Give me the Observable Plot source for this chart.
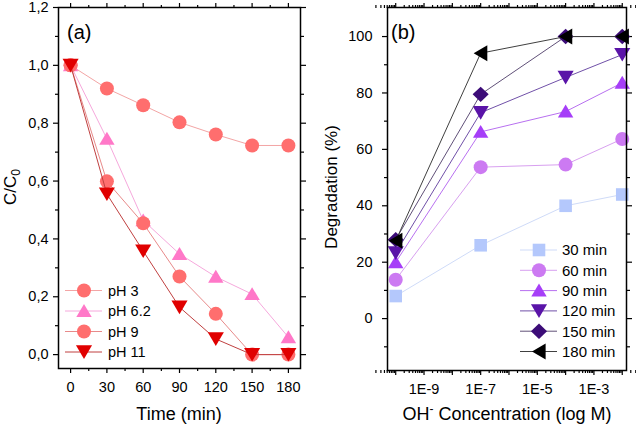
<!DOCTYPE html>
<html><head><meta charset="utf-8">
<script src="https://cdn.jsdelivr.net/npm/d3@7"></script>
<script src="https://cdn.jsdelivr.net/npm/@observablehq/plot@0.6"></script>
<style>
body{margin:0;background:#fff;font-family:"Liberation Sans",Arial,sans-serif;}
#wrap{display:flex;width:636px;height:428px;}
</style></head><body><div id="wrap"></div>
<script>
// ---------- data: panel (a) ----------
const time = [0, 30, 60, 90, 120, 150, 180];
const pH3  = [1.0, 0.92, 0.862, 0.803, 0.761, 0.723, 0.723];
const pH62 = [1.0, 0.746, 0.464, 0.348, 0.269, 0.209, 0.06];
const pH9  = [1.0, 0.599, 0.454, 0.27, 0.141, 0.0, 0.0];
const pH11 = [1.0, 0.555, 0.358, 0.164, 0.054, 0.0, 0.0];
const phNames = ["pH 3", "pH 6.2", "pH 9", "pH 11"];

// ---------- data: panel (b) ----------
const conc = [1e-10, 1e-7, 1e-4, 1e-2];
const m30  = [8, 26, 40, 44];
const m60  = [13.8, 53.7, 54.6, 63.7];
const m90  = [20, 66.2, 73.4, 83.6];
const m120 = [23.3, 73, 85.5, 93.6];
const m150 = [28, 79.5, 100, 100];
const m180 = [27.6, 94.1, 100, 100];
const minNames = ["30 min", "60 min", "90 min", "120 min", "150 min", "180 min"];

// ---------- tick labels ----------
const aYMajor = [0, 0.2, 0.4, 0.6, 0.8, 1.0, 1.2];
const aYMinor = [0.1, 0.3, 0.5, 0.7, 0.9, 1.1];
const aXMajor = [0, 30, 60, 90, 120, 150, 180];
const aXMinor = [15, 45, 75, 105, 135, 165];
const bYMajor = [0, 20, 40, 60, 80, 100];
const bYMinor = [-10, 10, 30, 50, 70, 90];
const bXLabeled = [1e-9, 1e-7, 1e-5, 1e-3];
const bXUnlabeled = [1e-10, 1e-8, 1e-6, 1e-4, 1e-2];
const bXMinor = [];
for (let e = -11; e <= -2; e++) for (let k = 2; k <= 9; k++) bXMinor.push(k * Math.pow(10, e));

// ---------- symbols ----------
const sym = f => ({draw(ctx, size){ const r = Math.sqrt(size / Math.PI); f(ctx, r); }});
const poly = (c, pts) => { c.moveTo(pts[0][0], pts[0][1]); for (let i = 1; i < pts.length; i++) c.lineTo(pts[i][0], pts[i][1]); c.closePath(); };
const SYM = {
  circle: sym((c, r) => { c.moveTo(r, 0); c.arc(0, 0, r, 0, 2 * Math.PI); }),
  square: sym((c, r) => poly(c, [[-0.9*r,-0.9*r],[0.9*r,-0.9*r],[0.9*r,0.9*r],[-0.9*r,0.9*r]])),
  up: sym((c, r) => poly(c, [[0,-1.0*r],[1.1*r,0.85*r],[-1.1*r,0.85*r]])),
  down: sym((c, r) => poly(c, [[0,1.0*r],[1.15*r,-0.95*r],[-1.15*r,-0.95*r]])),
  left: sym((c, r) => poly(c, [[-1.0*r,0],[0.95*r,-1.15*r],[0.95*r,1.15*r]])),
  diamond: sym((c, r) => poly(c, [[0,-1.1*r],[1.15*r,0],[0,1.1*r],[-1.15*r,0]]))
};

const seriesA = [
  {name: phNames[0], values: pH3,  fill: "#ff6e6e", line: "#f3a5a5", sym: "circle"},
  {name: phNames[1], values: pH62, fill: "#ff78c8", line: "#f6a8dc", sym: "up"},
  {name: phNames[2], values: pH9,  fill: "#ff6e6e", line: "#e88a8a", sym: "circle"},
  {name: phNames[3], values: pH11, fill: "#e00000", line: "#c04040", sym: "down"}
];
const seriesB = [
  {name: minNames[0], values: m30,  fill: "#b4c8fc", line: "#cfdbf8", sym: "square"},
  {name: minNames[1], values: m60,  fill: "#cc7af2", line: "#d8a0f0", sym: "circle"},
  {name: minNames[2], values: m90,  fill: "#a63ef8", line: "#b870f0", sym: "up"},
  {name: minNames[3], values: m120, fill: "#5a14a8", line: "#7050a8", sym: "down"},
  {name: minNames[4], values: m150, fill: "#3c0c78", line: "#605078", sym: "diamond"},
  {name: minNames[5], values: m180, fill: "#000000", line: "#404040", sym: "left"}
];

const R = 7;
const font = "Liberation Sans, Arial, sans-serif";
const comma = d => d.toFixed(1).replace(".", ",");
const blank = () => "";
const tickOpts = {label: null, strokeWidth: 1.2};

function seriesMarks(series, xs) {
  const marks = [];
  for (const s of series) {
    const rows = xs.map((x, i) => ({x, y: s.values[i]}));
    marks.push(Plot.line(rows, {x: "x", y: "y", stroke: s.line, strokeWidth: 1}));
    marks.push(Plot.dot(rows, {x: "x", y: "y", symbol: SYM[s.sym], fill: s.fill, r: R}));
  }
  return marks;
}

function styleText(sel, size) {
  return sel.style("font-size", size + "px").style("font-family", font)
    .style("font-weight", "normal").style("fill", "black");
}

function addLegend(svg, series, x0, x1, mx, tx, y0, step, fs) {
  const g = d3.select(svg).append("g");
  series.forEach((s, i) => {
    const y = y0 + i * step;
    g.append("line").attr("x1", x0).attr("x2", x1).attr("y1", y).attr("y2", y)
      .attr("stroke", s.line).attr("stroke-width", 1);
    g.append("path").attr("d", d3.symbol(SYM[s.sym], Math.PI * R * R)())
      .attr("transform", `translate(${mx},${y})`).attr("fill", s.fill);
    styleText(g.append("text").attr("x", tx).attr("y", y).attr("dy", "0.36em")
      .attr("text-anchor", "start"), fs).text(s.name);
  });
}

// ---------- panel (a) ----------
const plotA = Plot.plot({
  width: 318, height: 428,
  marginLeft: 58, marginRight: 18, marginTop: 7, marginBottom: 60,
  style: {fontFamily: font, fontSize: "14px", color: "black", background: "white", overflow: "visible"},
  x: {domain: [-10, 190]},
  y: {domain: [-0.048, 1.2]},
  marks: [
    Plot.axisY(aYMajor, {...tickOpts, anchor: "left", tickSize: 5, tickPadding: 5, tickFormat: comma}),
    Plot.axisY(aYMinor, {...tickOpts, anchor: "left", tickSize: 3, tickFormat: blank}),
    Plot.axisY(aYMajor, {...tickOpts, anchor: "right", tickSize: 5, tickFormat: blank}),
    Plot.axisY(aYMinor, {...tickOpts, anchor: "right", tickSize: 3, tickFormat: blank}),
    Plot.axisX(aXMajor, {...tickOpts, anchor: "bottom", tickSize: 5, tickPadding: 8}),
    Plot.axisX(aXMinor, {...tickOpts, anchor: "bottom", tickSize: 3, tickFormat: blank}),
    Plot.axisX(aXMajor, {...tickOpts, anchor: "top", tickSize: 5, tickFormat: blank}),
    Plot.axisX(aXMinor, {...tickOpts, anchor: "top", tickSize: 3, tickFormat: blank}),
    ...seriesMarks(seriesA, time),
    Plot.frame({stroke: "black", strokeWidth: 1.5})
  ]
});

// ---------- panel (b) ----------
const plotB = Plot.plot({
  width: 318, height: 428,
  marginLeft: 69, marginRight: 10, marginTop: 7, marginBottom: 58,
  style: {fontFamily: font, fontSize: "14px", color: "black", background: "white", overflow: "visible"},
  x: {type: "log", domain: [Math.pow(10, -10.29), Math.pow(10, -1.85)]},
  y: {domain: [-18.4, 110.3]},
  marks: [
    Plot.axisY(bYMajor, {...tickOpts, anchor: "left", tickSize: 5, tickPadding: 10}),
    Plot.axisY(bYMinor, {...tickOpts, anchor: "left", tickSize: 3, tickFormat: blank}),
    Plot.axisY(bYMajor, {...tickOpts, anchor: "right", tickSize: 5, tickFormat: blank}),
    Plot.axisY(bYMinor, {...tickOpts, anchor: "right", tickSize: 3, tickFormat: blank}),
    Plot.axisX(bXLabeled, {...tickOpts, anchor: "bottom", tickSize: 5, tickPadding: 8, tickFormat: d => "1E" + Math.round(Math.log10(d))}),
    Plot.axisX(bXUnlabeled, {...tickOpts, anchor: "bottom", tickSize: 5, tickFormat: blank}),
    Plot.axisX(bXMinor, {...tickOpts, anchor: "bottom", tickSize: 3, tickFormat: blank}),
    Plot.axisX(bXLabeled.concat(bXUnlabeled), {...tickOpts, anchor: "top", tickSize: 5, tickFormat: blank}),
    Plot.axisX(bXMinor, {...tickOpts, anchor: "top", tickSize: 3, tickFormat: blank}),
    ...seriesMarks(seriesB, conc),
    Plot.frame({stroke: "black", strokeWidth: 1.5})
  ]
});

// Plot's own tick labels
for (const p of [plotA, plotB]) {
  d3.select(p).selectAll("text").style("font-size", "14.5px").style("font-family", font).style("fill", "black");
}

// ---------- titles & legends ----------
function addText(svg, x, y, size, opts = {}) {
  const t = styleText(d3.select(svg).append("text").attr("x", x).attr("y", y)
    .attr("text-anchor", opts.anchor || "start"), size);
  if (opts.rotate) t.attr("transform", `rotate(${opts.rotate},${x},${y})`);
  return t;
}

addText(plotA, 67, 38.5, 20).text("(a)");
const ya = addText(plotA, 16, 187, 17, {anchor: "middle", rotate: -90});
ya.append("tspan").text("C/C");
styleText(ya.append("tspan").attr("dy", 4), 12).text("0");
addText(plotA, 179, 420, 18, {anchor: "middle"}).text("Time (min)");
addLegend(plotA, seriesA, 65, 102, 84, 108, 290.5, 20.5, 14.5);

addText(plotB, 73, 38.5, 20).text("(b)");
addText(plotB, 19, 187, 17, {anchor: "middle", rotate: -90}).text("Degradation (%)");
const xb = addText(plotB, 189, 420, 18, {anchor: "middle"});
xb.append("tspan").text("OH");
styleText(xb.append("tspan").attr("dy", -7), 12).text("-");
styleText(xb.append("tspan").attr("dy", 7), 18).text(" Concentration (log M)");
addLegend(plotB, seriesB, 202, 239, 221, 244, 250, 20.3, 15);

document.getElementById("wrap").append(plotA, plotB);
</script></body></html>
